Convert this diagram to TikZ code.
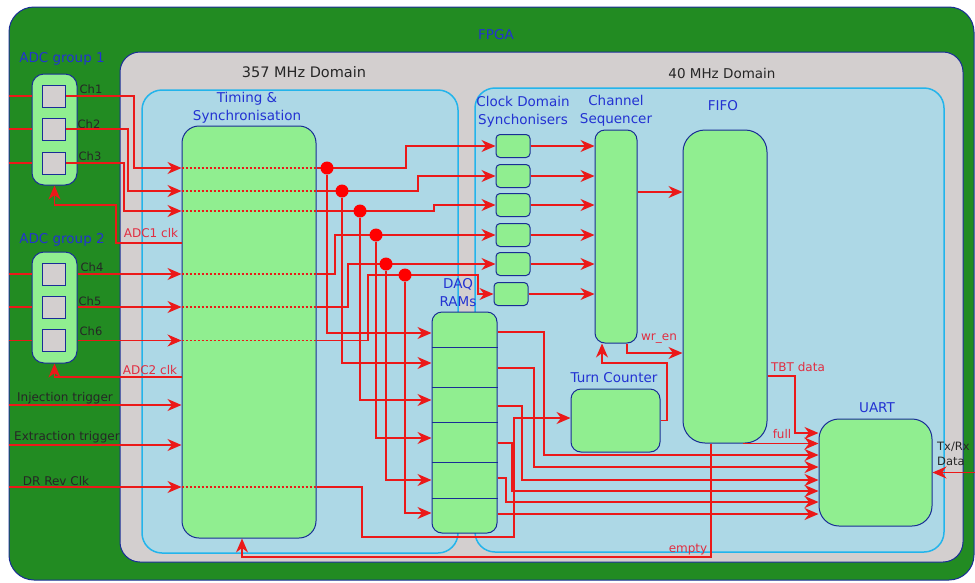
\documentclass[tikz,border=0pt]{standalone}
\usepackage{fontspec}
\setmainfont{DejaVu Sans}
\usetikzlibrary{arrows.meta, positioning}

\definecolor{fpgagreen}{RGB}{34,139,34}
\definecolor{navyline}{RGB}{25,45,150}
\definecolor{coregray}{RGB}{211,207,207}
\definecolor{domblue}{RGB}{173,216,230}
\definecolor{domline}{RGB}{35,180,235}
\definecolor{blkgreen}{RGB}{144,238,144}
\definecolor{wirered}{RGB}{235,25,25}
\definecolor{ttlblue}{RGB}{35,50,210}
\definecolor{lblred}{RGB}{225,45,65}

\begin{document}
\begin{tikzpicture}[x=1pt, y=-1pt,
    >={Stealth[length=14pt, width=12pt, inset=4.5pt]},
    frame/.style={draw=navyline, line width=1pt, inner sep=0pt},
    dom/.style={draw=domline, fill=domblue, line width=1.5pt, rounded corners=20pt, inner sep=0pt},
    blk/.style={draw=navyline, fill=blkgreen, line width=1pt, inner sep=0pt},
    chan/.style={draw=navyline, fill=coregray, line width=1pt, inner sep=0pt, minimum width=23pt, minimum height=22pt},
    sync/.style={blk, rounded corners=4pt, minimum width=34pt, minimum height=23pt},
    wire/.style={draw=wirered, line width=1.2pt},
    dotwire/.style={draw=wirered, line width=1.2pt, dash pattern=on 2pt off 2pt},
    junc/.style={circle, fill=red, inner sep=0pt, minimum size=13pt},
    ttl/.style={text=ttlblue, font=\fontsize{13.5}{18}\selectfont, inner sep=0pt},
    dark/.style={text=black!85, font=\fontsize{13.5}{18}\selectfont, inner sep=0pt},
    sig/.style={text=black!85, font=\fontsize{12}{15}\selectfont, inner sep=0pt},
    rsig/.style={text=lblred, font=\fontsize{12}{15}\selectfont, inner sep=0pt}]
    \useasboundingbox (0,0) rectangle (975,582);

    % frames
    \node[frame, fill=fpgagreen, rounded corners=25pt, minimum width=965pt, minimum height=573pt] (fpga) at (491.5,293.5) {};
    \node[frame, fill=coregray, rounded corners=20pt, minimum width=843pt, minimum height=510pt] (core) at (541.5,307) {};
    \node[dom, minimum width=316pt, minimum height=463pt] (fast) at (300,321.5) {};
    \node[dom, minimum width=469pt, minimum height=464pt] (slow) at (709.5,320) {};

    \node[ttl] (lfpga) at (496,35) {FPGA};
    \node[dark, font=\fontsize{14.5}{18}\selectfont] (lfast) at (304,72) {357 MHz Domain};
    \node[dark] (lslow) at (722,73) {40 MHz Domain};

    % ADC groups
    \node[blk, rounded corners=12pt, minimum width=45pt, minimum height=111pt] (adc1) at (54.5,129.5) {};
    \node[blk, rounded corners=12pt, minimum width=45pt, minimum height=111pt] (adc2) at (54.5,307.5) {};
    \node[chan] (ch1) at (54,96) {};
    \node[chan] (ch2) at (54,129) {};
    \node[chan] (ch3) at (54,163) {};
    \node[chan] (ch4) at (54,274) {};
    \node[chan] (ch5) at (54,307) {};
    \node[chan] (ch6) at (54,340.5) {};
    \node[ttl] (lgrp1) at (62,59) {ADC group 1};
    \node[ttl] (lgrp2) at (62,240) {ADC group 2};
    \node[sig, font=\fontsize{11.5}{14}\selectfont] (lch1) at (91,89) {Ch1};
    \node[sig, font=\fontsize{11.5}{14}\selectfont] (lch2) at (89,124) {Ch2};
    \node[sig, font=\fontsize{11.5}{14}\selectfont] (lch3) at (90,156) {Ch3};
    \node[sig, font=\fontsize{11.5}{14}\selectfont] (lch4) at (92,267) {Ch4};
    \node[sig, font=\fontsize{11.5}{14}\selectfont] (lch5) at (90,301) {Ch5};
    \node[sig, font=\fontsize{11.5}{14}\selectfont] (lch6) at (91,331) {Ch6};

    % blocks
    \node[blk, rounded corners=17pt, minimum width=134pt, minimum height=412pt] (tim) at (249,332) {};
    \node[sync] (cd1) at (513,146) {};
    \node[sync] (cd2) at (513,176) {};
    \node[sync] (cd3) at (513,205) {};
    \node[sync] (cd4) at (513,235) {};
    \node[sync] (cd5) at (513,264) {};
    \node[sync] (cd6) at (511,294) {};
    \node[blk, rounded corners=10pt, minimum width=42pt, minimum height=213pt] (seq) at (616,236.5) {};
    \node[blk, rounded corners=22pt, minimum width=84pt, minimum height=313pt] (fifo) at (725,286.5) {};
    \node[blk, rounded corners=10pt, minimum width=65pt, minimum height=221pt] (ram) at (464.5,422.5) {};
    \node[blk, rounded corners=10pt, minimum width=89pt, minimum height=63pt] (turn) at (615.5,420.5) {};
    \node[blk, rounded corners=20pt, minimum width=113pt, minimum height=107pt] (uart) at (875.5,472.5) {};
    \draw[navyline, line width=1pt] (ram.west |- 0,347) -- (ram.east |- 0,347)
        (ram.west |- 0,387) -- (ram.east |- 0,387)
        (ram.west |- 0,422) -- (ram.east |- 0,422)
        (ram.west |- 0,462) -- (ram.east |- 0,462)
        (ram.west |- 0,498) -- (ram.east |- 0,498);

    \node[ttl, align=center] (ltim) at (247,107.5) {Timing \&\\Synchronisation};
    \node[ttl, align=center] (lcd) at (523,112) {Clock Domain\\Synchonisers};
    \node[ttl, align=center] (lseq) at (616,111) {Channel\\Sequencer};
    \node[ttl] (lfifo) at (723,106) {FIFO};
    \node[ttl, align=center] (lram) at (458,293) {DAQ\\RAMs};
    \node[ttl] (lturn) at (614,378) {Turn Counter};
    \node[ttl] (luart) at (877,408) {UART};

    % inputs from outside
    \draw[wire] (fpga.west |- ch1) -- (adc1.west |- ch1)
        (fpga.west |- ch2) -- (adc1.west |- ch2)
        (fpga.west |- ch3) -- (adc1.west |- ch3)
        (fpga.west |- ch4) -- (adc2.west |- ch4)
        (fpga.west |- ch5) -- (adc2.west |- ch5)
        (fpga.west |- ch6) -- (adc2.west |- ch6);
    \draw[wire, ->] (fpga.west |- 0,405) -- (tim.west |- 0,405);
    \draw[wire, ->] (fpga.west |- 0,445) -- (tim.west |- 0,445);
    \draw[wire, ->] (fpga.west |- 0,487) -- (tim.west |- 0,487);
    \node[sig] (linj) at (65,398) {Injection trigger};
    \node[sig] (lext) at (67,437) {Extraction trigger};
    \node[sig] (ldr) at (56,481) {DR Rev Clk};

    % channels into timing
    \draw[wire, ->] (ch1.east) -| (134,168) -- (tim.west |- 0,168);
    \draw[wire, ->] (ch2.east) -| (128,191) -- (tim.west |- 0,191);
    \draw[wire, ->] (ch3.east) -| (124,211) -- (tim.west |- 0,211);
    \draw[wire, ->] (adc2.east |- ch4) -- (tim.west |- ch4);
    \draw[wire, ->] (adc2.east |- ch5) -- (tim.west |- ch5);
    \draw[wire, ->] (adc2.east |- ch6) -- (tim.west |- ch6);
    \draw[dotwire] (tim.west |- 0,168) -- (tim.east |- 0,168)
        (tim.west |- 0,191) -- (tim.east |- 0,191)
        (tim.west |- 0,211) -- (tim.east |- 0,211)
        (tim.west |- ch4) -- (tim.east |- ch4)
        (tim.west |- ch5) -- (tim.east |- ch5)
        (tim.west |- ch6) -- (tim.east |- ch6)
        (tim.west |- 0,487) -- (tim.east |- 0,487);

    % ADC clocks
    \draw[wire, ->] (tim.west |- 0,243) -| (116,205) -| (adc1.south);
    \draw[wire, ->] (tim.west |- 0,377) -| (adc2.south);
    \node[rsig] (lclk1) at (151,233) {ADC1 clk};
    \node[rsig] (lclk2) at (150,370) {ADC2 clk};

    % timing to synchronisers
    \draw[wire, ->] (tim.east |- 0,168) -| (406,146) -- (cd1.west);
    \draw[wire, ->] (tim.east |- 0,191) -| (418,176) -- (cd2.west);
    \draw[wire, ->] (tim.east |- 0,211) -| (434,205) -- (cd3.west);
    \draw[wire, ->] (tim.east |- ch4) -| (335,235) -- (cd4.west);
    \draw[wire, ->] (tim.east |- ch5) -| (348,264) -- (cd5.west);
    \draw[wire, ->] (tim.east |- ch6) -| (368,275) -| (478,294) -- (cd6.west);

    % timing to DAQ RAMs
    \node[junc] (j1) at (327,168) {};
    \node[junc] (j2) at (342,191) {};
    \node[junc] (j3) at (360,211) {};
    \node[junc] (j4) at (376,235) {};
    \node[junc] (j5) at (386,264) {};
    \node[junc] (j6) at (405,275) {};
    \draw[wire, ->] (j1) |- (ram.west |- 0,333);
    \draw[wire, ->] (j2) |- (ram.west |- 0,363);
    \draw[wire, ->] (j3) |- (ram.west |- 0,400);
    \draw[wire, ->] (j4) |- (ram.west |- 0,438);
    \draw[wire, ->] (j5) |- (ram.west |- 0,480);
    \draw[wire, ->] (j6) |- (ram.west |- 0,513);

    % synchronisers to sequencer to FIFO
    \draw[wire, ->] (cd1.east) -- (seq.west |- cd1);
    \draw[wire, ->] (cd2.east) -- (seq.west |- cd2);
    \draw[wire, ->] (cd3.east) -- (seq.west |- cd3);
    \draw[wire, ->] (cd4.east) -- (seq.west |- cd4);
    \draw[wire, ->] (cd5.east) -- (seq.west |- cd5);
    \draw[wire, ->] (cd6.east) -- (seq.west |- cd6);
    \draw[wire, ->] (seq.east |- 0,192) -- (fifo.west |- 0,192);
    \draw[wire, ->] (seq.south -| 627,0) |- (fifo.west |- 0,353);
    \node[rsig] (lwr) at (659,339) {wr\_en};

    % turn counter
    \draw[wire, ->] (tim.east |- 0,487) -| (362,537) -| (514,418) -- (turn.west |- 0,418);
    \draw[wire, ->] (turn.east) -| (667,363) -| (seq.south -| 602,0);

    % DAQ RAMs to UART
    \draw[wire, ->] (ram.east |- 0,332) -| (544,455) -- (uart.west |- 0,455);
    \draw[wire, ->] (ram.east |- 0,368) -| (534,467) -- (uart.west |- 0,467);
    \draw[wire, ->] (ram.east |- 0,406) -| (522,480) -- (uart.west |- 0,480);
    \draw[wire, ->] (ram.east |- 0,443) -| (512,491) -- (uart.west |- 0,491);
    \draw[wire, ->] (ram.east |- 0,478) -| (506,502) -- (uart.west |- 0,502);
    \draw[wire, ->] (ram.east |- 0,514) -- (uart.west |- 0,514);

    % FIFO to UART and back
    \draw[wire, ->] (fifo.east |- 0,376) -| (795,433) -- (uart.west |- 0,433);
    \draw[wire, ->] (fifo.south -| 743,0) -- (uart.west |- fifo.south);
    \draw[wire, ->] (fifo.south -| 711,0) |- (242,557) -- (tim.south -| 242,0);
    \draw[wire, ->] (fpga.east |- uart) -- (uart.east);
    \node[rsig] (ltbt) at (798,367) {TBT data};
    \node[rsig] (lfull) at (782,434) {full};
    \node[rsig] (lempty) at (688,550) {empty};
    \node[sig, align=left, anchor=west, font=\fontsize{11.5}{15}\selectfont] (ltx) at (937,454) {Tx/Rx\\Data};
\end{tikzpicture}
\end{document}
